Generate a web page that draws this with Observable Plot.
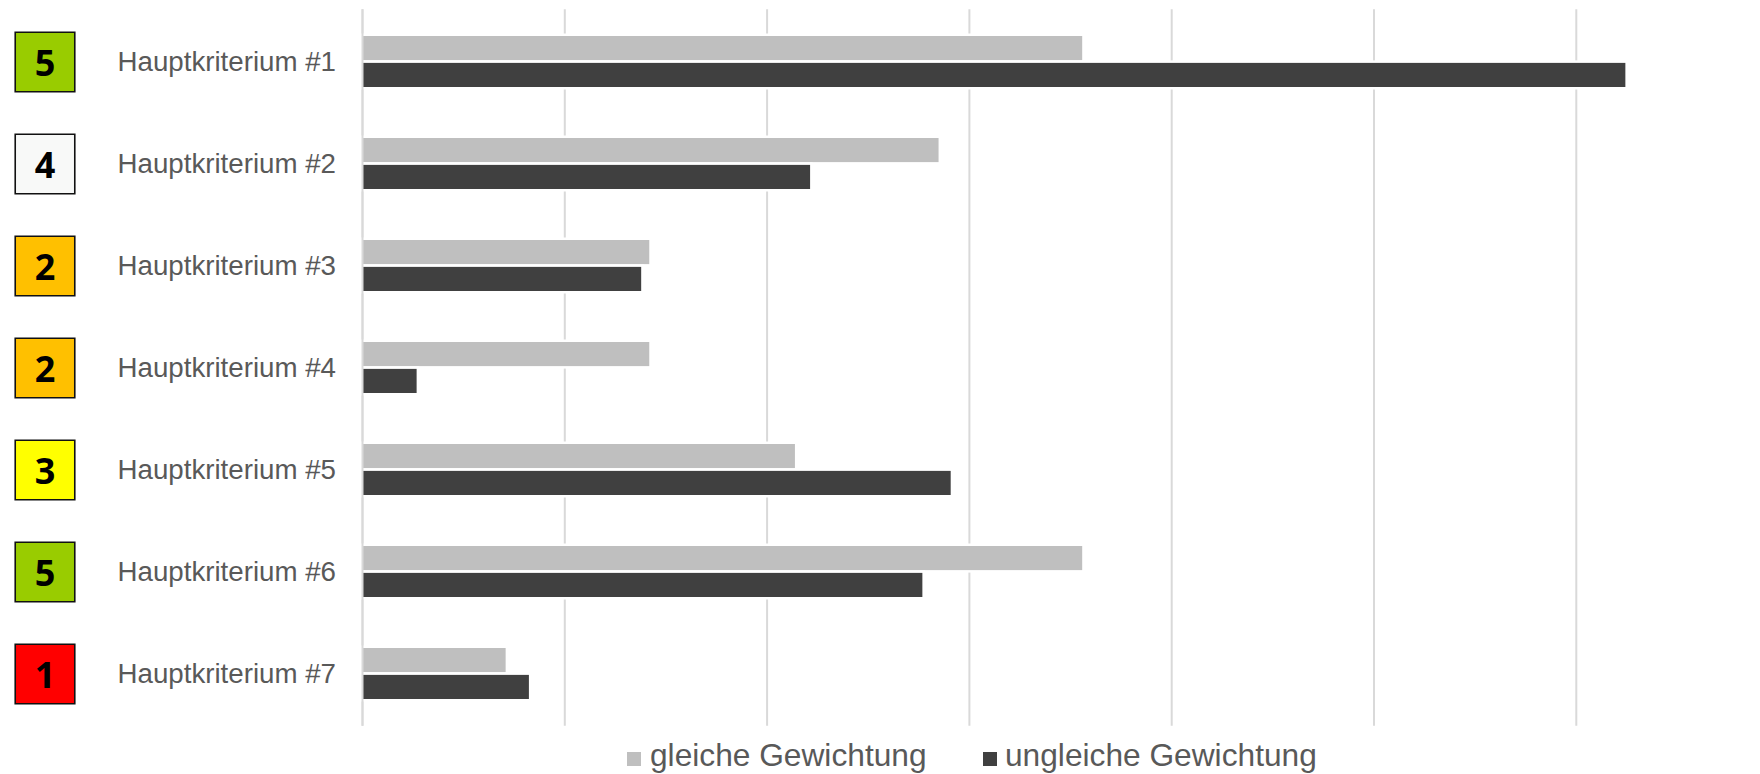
<!DOCTYPE html>
<html>
<head>
<meta charset="utf-8">
<script src="https://cdn.jsdelivr.net/npm/d3@7"></script>
<script src="https://cdn.jsdelivr.net/npm/@observablehq/plot@0.6"></script>
<style>
  html, body { margin: 0; padding: 0; background: #fff; }
  #wrap { position: relative; width: 1760px; height: 774px; overflow: hidden; font-family: "Liberation Sans", Arial, sans-serif; }
  #chart svg { display: block; }
  .lg-sw { position: absolute; width: 14px; height: 14px; }
  .lg-tx { position: absolute; font-size: 31.7px; line-height: 31.7px; color: #595959; white-space: nowrap; }
</style>
</head>
<body>
<div id="wrap">
  <div id="chart"></div>
  <div id="legend"></div>
</div>
<script>
// ---- data ----
const kategorien = ["Hauptkriterium #1", "Hauptkriterium #2", "Hauptkriterium #3", "Hauptkriterium #4", "Hauptkriterium #5", "Hauptkriterium #6", "Hauptkriterium #7"];
const bewertung = [5, 4, 2, 2, 3, 5, 1];
const gleicheGewichtung = [3.56, 2.85, 1.42, 1.42, 2.14, 3.56, 0.71];
const ungleicheGewichtung = [6.245, 2.215, 1.38, 0.27, 2.91, 2.77, 0.825];
const serien = ["gleiche Gewichtung", "ungleiche Gewichtung"];
const gitterWerte = [0, 1, 2, 3, 4, 5, 6];

// ---- styles ----
const serienFarben = {"gleiche Gewichtung": "#bfbfbf", "ungleiche Gewichtung": "#404040"};
const bewertungsFarben = {5: "#99cc00", 4: "#f8f9f8", 3: "#ffff00", 2: "#ffc000", 1: "#ff0000"};

const rows = kategorien.map((k, i) => ({kategorie: k, score: bewertung[i], gleich: gleicheGewichtung[i], ungleich: ungleicheGewichtung[i]}));

const W = 1760, H = 740;
const marginLeft = 362, marginTop = 9.3, marginBottom = 14.3;
const innerH = H - marginTop - marginBottom;
const band = innerH / 7 * 0.5;
const halfInset = (band + 2.6) / 2;
const labelDx = 117 - marginLeft;
const badgeDx = 44.5 - marginLeft;

const badgeMarks = [];
for (const s of Array.from(new Set(bewertung))) {
  const sub = rows.filter(d => d.score === s);
  badgeMarks.push(Plot.dot(sub, {
    y: "kategorie", frameAnchor: "left", dx: badgeDx,
    symbol: "square", r: 33.6, fill: bewertungsFarben[s], stroke: "#111", strokeWidth: 1.6
  }));
}

const plot = Plot.plot({
  width: W,
  height: H,
  marginLeft, marginRight: 0, marginTop, marginBottom,
  style: {fontFamily: "'Liberation Sans', Arial, sans-serif", background: "#fff"},
  x: {domain: [0, (W - marginLeft) / 202.3], axis: null},
  y: {domain: kategorien, paddingInner: 0.5, paddingOuter: 0.25, axis: null},
  marks: [
    Plot.ruleX(gitterWerte, {stroke: "#d9d9d9", strokeWidth: 2}),
    Plot.barX(rows, {y: "kategorie", x: "gleich", fill: serienFarben[serien[0]], insetBottom: halfInset,
      stroke: "#fff", strokeWidth: 5, paintOrder: "stroke"}),
    Plot.barX(rows, {y: "kategorie", x: "ungleich", fill: serienFarben[serien[1]], insetTop: halfInset,
      stroke: "#fff", strokeWidth: 5, paintOrder: "stroke"}),
    Plot.ruleX([gitterWerte[0]], {stroke: "#d9d9d9", strokeWidth: 2}),
    Plot.text(rows, {y: "kategorie", text: "kategorie", frameAnchor: "left", dx: labelDx, textAnchor: "start",
      fontSize: 27.7, fill: "#595959"}),
    ...badgeMarks,
    Plot.text(rows, {y: "kategorie", text: d => String(d.score), frameAnchor: "left", dx: badgeDx, dy: 2,
      textAnchor: "middle", fontSize: 36, fontWeight: "bold", fill: "#000",
      fontFamily: "'Open Sans', 'Noto Sans', sans-serif"})
  ]
});
document.getElementById("chart").appendChild(plot);

// ---- legend ----
const legend = document.getElementById("legend");
const legendPos = [{sw: 627, tx: 650}, {sw: 983, tx: 1005}];
serien.forEach((s, i) => {
  const sw = document.createElement("div");
  sw.className = "lg-sw";
  sw.style.left = legendPos[i].sw + "px";
  sw.style.top = "752px";
  sw.style.background = serienFarben[s];
  legend.appendChild(sw);
  const tx = document.createElement("div");
  tx.className = "lg-tx";
  tx.style.left = legendPos[i].tx + "px";
  tx.style.top = "740px";
  tx.textContent = s;
  legend.appendChild(tx);
});
</script>
</body>
</html>
